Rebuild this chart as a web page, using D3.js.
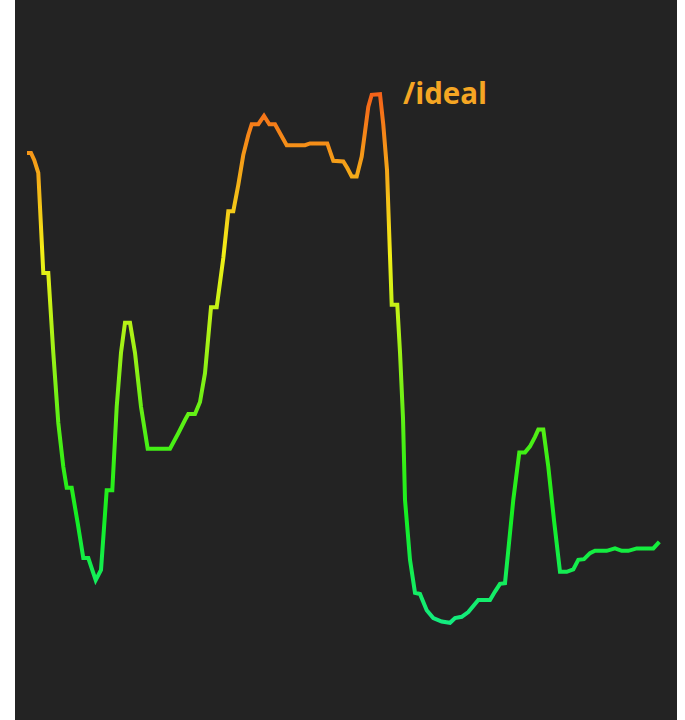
<!DOCTYPE html>
<html>
<head lang="en">
    <meta charset="UTF-8">
    <title></title>
    <script src="https://cdn.jsdelivr.net/npm/d3@7"></script>
    <style>
        *{
            margin: 0;
            padding: 0;
        }
        body{
            background: #fff;
        }
    </style>
</head>
<body>
<div id="mychart" style="width:685px;height:720px;position:fixed;left:0;top:0"></div>
<script>
    // x: elapsed time, y: score
    var xdata=[0, 4, 7.3, 11.3, 16.3, 21.3, 26.3, 31.3, 36.3, 39.7,
        44.7, 50.7, 56.3, 61.3, 68.7, 74, 79.7, 85.3, 89.7, 94,
        98, 103, 108, 114, 120.7, 143, 151.3, 158, 161.3, 168,
        173, 178, 184, 189.7, 196.3, 201.3, 206.3, 211.3, 216.3, 221.3,
        224.7, 231.3, 237, 242.3, 248, 253, 259.7, 278, 283, 300.3,
        306.3, 316.3, 320.3, 324.7, 329.7, 334.7, 338, 341.3, 344.7, 353,
        356.3, 360, 364.7, 370.3, 373, 376, 378, 383, 388, 393,
        399.7, 406.3, 414.7, 423, 428, 434.7, 441.3, 451.3, 463, 468,
        473, 478, 481.3, 486.3, 492.3, 498, 503, 508, 511.3, 516.3,
        521.3, 527, 533, 539.7, 546.3, 551.3, 557, 563, 568, 579.7,
        588, 594.7, 601.3, 609.7, 626.3, 632.3];
    var ydata=[84.5, 84.5, 83.3, 81.2, 64.5, 64.5, 51.2, 39.5, 32.2, 28.7,
        28.7, 22.8, 17, 17, 13.3, 15, 28.3, 28.3, 42.2, 51.2,
        56.2, 56.2, 51.2, 42.2, 35.2, 35.2, 37.8, 40, 41, 41,
        43, 47.8, 58.8, 58.8, 67, 74.8, 74.8, 79.2, 84.2, 87.5,
        89.3, 89.3, 90.7, 89.3, 89.3, 87.8, 85.8, 85.8, 86.1, 86.1,
        83.2, 83.1, 82, 80.6, 80.6, 83.9, 88, 92.2, 94.2, 94.3,
        89.2, 81.7, 59.2, 59.2, 51.3, 40.3, 26.7, 16.7, 11.2, 11,
        8.3, 7, 6.4, 6.2, 7, 7.2, 8, 10, 10, 11.4,
        12.7, 12.8, 18.3, 26.7, 34.6, 34.6, 35.6, 37.2, 38.4, 38.4,
        32.2, 23.3, 14.7, 14.7, 15.1, 16.7, 16.8, 17.8, 18.2, 18.2,
        18.6, 18.2, 18.2, 18.6, 18.6, 19.7];
    var labelText="/ideal";

    drawLine("mychart",xdata,ydata);

    function drawLine(divname,xdata,ydata){
        var _swidth = 685;
        var _sheight = 720;
        //dark panel
        var _panel = {left:15,right:677};
        var _svg = d3.select("#"+divname)
                .append("svg")
                .attr("width",_swidth)
                .attr("height",_sheight);
        _svg.append("rect")
                .attr("x",_panel.left)
                .attr("y",0)
                .attr("width",_panel.right-_panel.left)
                .attr("height",_sheight)
                .attr("fill","#232323");
        var _xscale = d3.scaleLinear()
                .domain([0,632.3])
                .range([27,659.3]);
        var _yscale = d3.scaleLinear()
                .domain([0,100])
                .range([660,60]);
        //vertical colour gradient: orange at the top, spring green at the bottom
        var _color = d3.interpolateHsl("hsl(20,92%,53%)","hsl(150,85%,50%)");
        var _grad = _svg.append("defs")
                .append("linearGradient")
                .attr("id","linegrad")
                .attr("gradientUnits","userSpaceOnUse")
                .attr("x1",0).attr("x2",0)
                .attr("y1",_yscale(d3.max(ydata)))
                .attr("y2",_yscale(d3.min(ydata)));
        _grad.selectAll("stop")
                .data(d3.range(0,1.0001,0.1))
                .enter()
                .append("stop")
                .attr("offset",function(d){return d;})
                .attr("stop-color",function(d){return _color(d);});
        var dataset = d3.zip(xdata,ydata);
        var _line = d3.line()
                .x(function(d){return _xscale(d[0]);})
                .y(function(d){return _yscale(d[1]);});
        _svg.append("path")
                .attr("d",_line(dataset))
                .attr("stroke","url(#linegrad)")
                .attr("stroke-width",4)
                .attr("stroke-linejoin","miter")
                .style("fill","none");
        _svg.append("text")
                .attr("x",403)
                .attr("y",103.5)
                .attr("fill","#f5a623")
                .style("font-family","'Open Sans', sans-serif")
                .style("font-weight","700")
                .style("font-size","29.5px")
                .text(labelText);
    }
</script>
</body>
</html>
